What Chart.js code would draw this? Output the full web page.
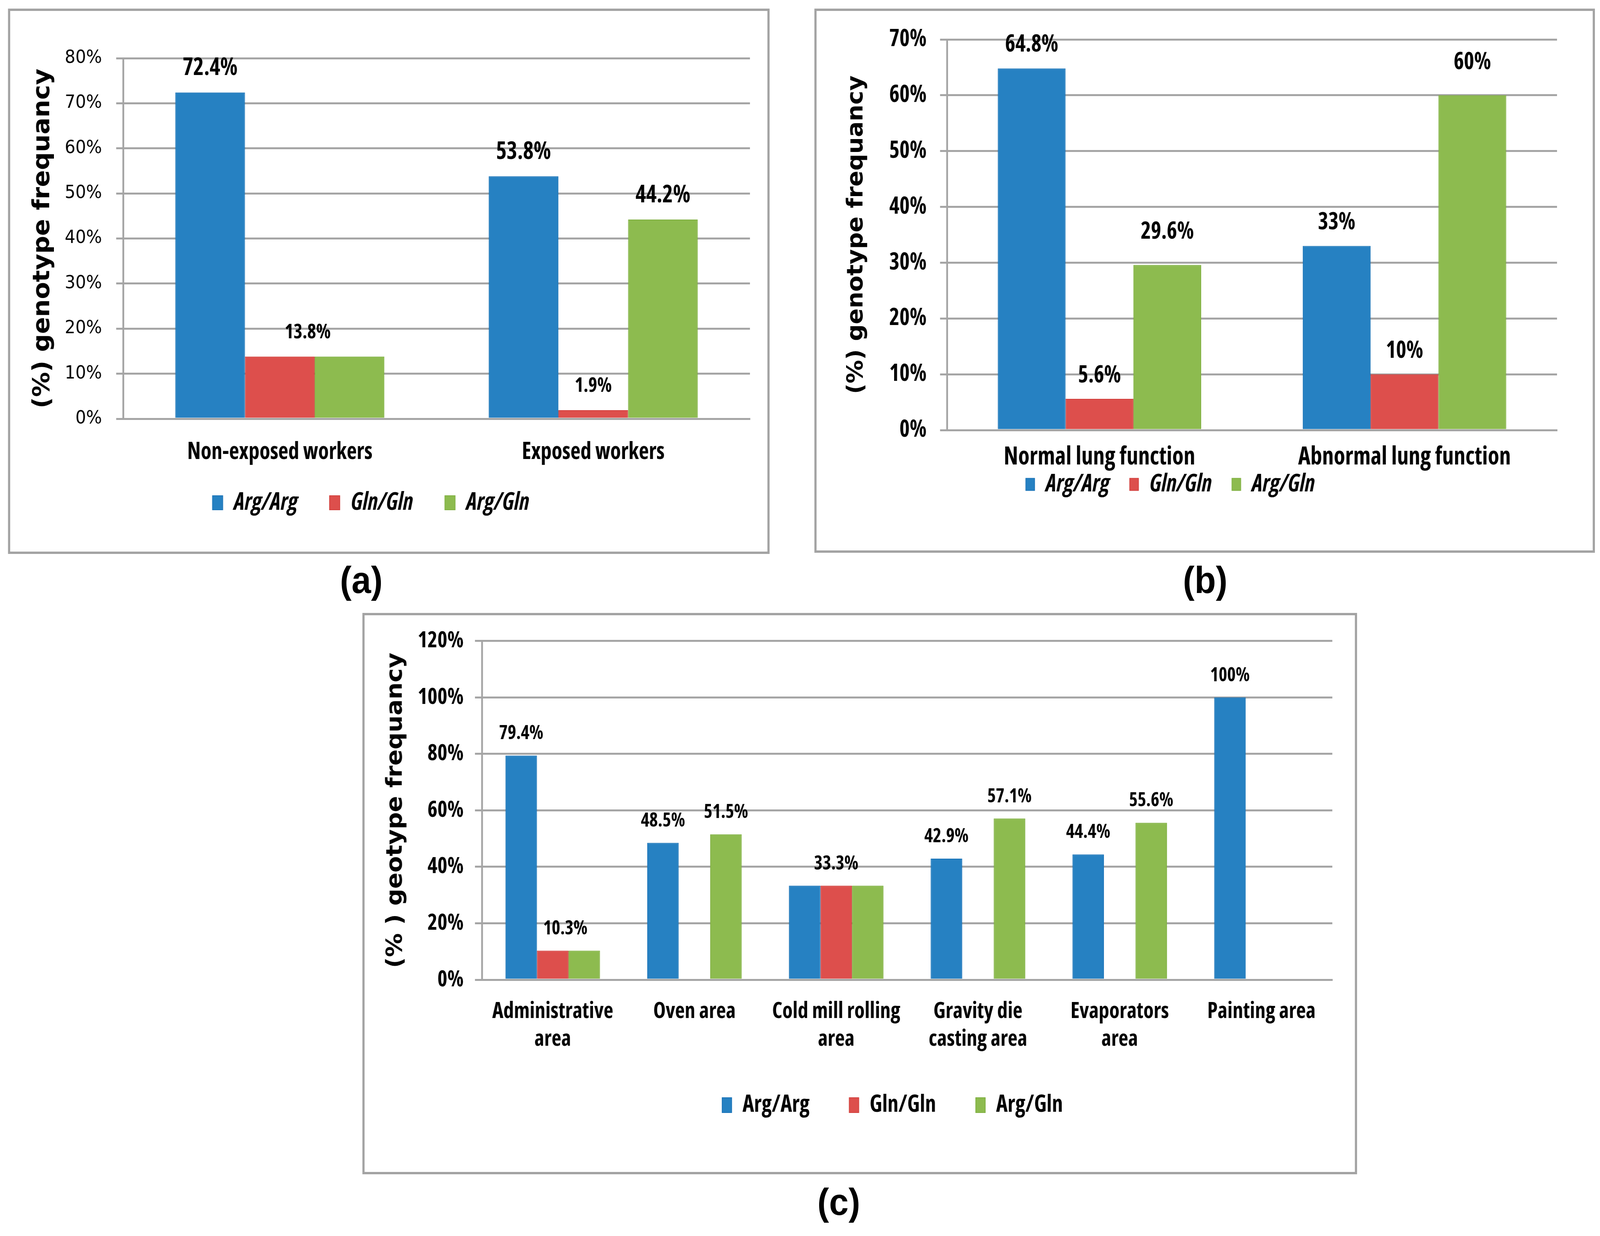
<!DOCTYPE html>
<html>
<head>
<meta charset="utf-8">
<script src="https://cdn.jsdelivr.net/npm/chart.js@4.4.1/dist/chart.umd.min.js"></script>
<style>
  html, body { margin: 0; padding: 0; background: #fff; overflow: hidden; }
  #frame { position: relative; width: 100vw; height: 3164px; overflow: hidden; }
  #page { position: absolute; left: 0; top: 0; width: 4393px; height: 3164px; transform-origin: 0 0; }
  .panel { position: absolute; border: 6px solid #a3a3a3; box-sizing: border-box; background: #fff; }
  .panel canvas { display: block; }
  .tag { position: absolute; width: 400px; height: 120px; line-height: 120px; text-align: center;
         font: bold 96px 'Liberation Sans', Arial, sans-serif; color: #000; }
</style>
</head>
<body>
<div id="frame">
<div id="page">
<div class="panel" style="left:22px;top:22px;width:2091px;height:1396px"><canvas id="chartA" width="2079" height="1384"></canvas></div>
<div class="panel" style="left:2236px;top:22px;width:2143px;height:1393px"><canvas id="chartB" width="2131" height="1381"></canvas></div>
<div class="panel" style="left:995px;top:1569px;width:2731px;height:1437px"><canvas id="chartC" width="2719" height="1425"></canvas></div>
<div class="tag" style="left:792px;top:1430px">(a)</div>
<div class="tag" style="left:3109px;top:1430px">(b)</div>
<div class="tag" style="left:2103px;top:3022px">(c)</div>
</div>
</div>

<script>
// the figure is laid out at 4393px wide; fit it to the window width
document.getElementById('page').style.transform =
  'scale(' + Math.min(1, window.innerWidth / 4393) + ', 1)';

// Series names shared by the three panels
const genotypes = ['Arg/Arg', 'Gln/Gln', 'Arg/Gln'];

// (a) exposure groups
const aCategories = ['Non-exposed workers', 'Exposed workers'];
const aArgArg = [72.4, 53.8];
const aGlnGln = [13.8, 1.9];
const aArgGln = [13.8, 44.2];
const aLabelArgArg = ['72.4%', '53.8%'];
const aLabelGlnGln = ['13.8%', '1.9%'];
const aLabelArgGln = ['', '44.2%'];

// (b) lung function
const bCategories = ['Normal lung function', 'Abnormal lung function'];
const bArgArg = [64.8, 33];
const bGlnGln = [5.6, 10];
const bArgGln = [29.6, 60];
const bLabelArgArg = ['64.8%', '33%'];
const bLabelGlnGln = ['5.6%', '10%'];
const bLabelArgGln = ['29.6%', '60%'];

// (c) work areas
const cCategories = [['Administrative', 'area'], 'Oven area', ['Cold mill rolling', 'area'],
                     ['Gravity die', 'casting area'], ['Evaporators', 'area'], 'Painting area'];
const cArgArg = [79.4, 48.5, 33.3, 42.9, 44.4, 100];
const cGlnGln = [10.3, 0, 33.3, 0, 0, 0];
const cArgGln = [10.3, 51.5, 33.3, 57.1, 55.6, 0];
const cLabelArgArg = ['79.4%', '48.5%', '', '42.9%', '44.4%', '100%'];
const cLabelGlnGln = ['10.3%', '', '33.3%', '', '', ''];
const cLabelArgGln = ['', '51.5%', '', '57.1%', '55.6%', ''];

const fills = ['#2681C2', '#DD4F4C', '#8DBB4F'];
const edges = ['#1B74B8', '#D2403D', '#7FB040'];
const gridColor = '#a5a5a5';
const NARROW = "'Open Sans', sans-serif";   // drawn condensed, close to Calibri
const WIDE = "'DejaVu Sans', Verdana, sans-serif";
const BOLD_C = 'bold condensed';

// value labels above the bars
const valueLabels = {
  id: 'valueLabels',
  afterDatasetsDraw(chart, args, opts) {
    const ctx = chart.ctx;
    chart.data.datasets.forEach((ds, di) => {
      const meta = chart.getDatasetMeta(di);
      meta.data.forEach((bar, i) => {
        const text = opts.texts[di][i];
        if (!text) return;
        const nudge = (opts.nudge && opts.nudge[di + '-' + i]) || 0;
        ctx.save();
        ctx.font = BOLD_C + ' ' + opts.sizes[di] + 'px ' + NARROW;
        ctx.fillStyle = '#000';
        ctx.textAlign = 'center';
        ctx.textBaseline = 'middle';
        ctx.fillText(text, bar.x + nudge * bar.width, bar.y - opts.offsets[di]);
        ctx.restore();
      });
    });
  }
};

// moves the legend row, as placed in the original figure
const legendShift = {
  id: 'legendShift',
  afterLayout(chart, args, opts) {
    const lg = chart.legend;
    if (!lg) return;
    lg.left += opts.dx || 0;
    lg.right += opts.dx || 0;
    lg.top += opts.dy || 0;
    lg.bottom += opts.dy || 0;
  }
};

function makeChart(canvasId, p) {
  return new Chart(document.getElementById(canvasId), {
    type: 'bar',
    data: {
      labels: p.categories,
      datasets: p.series.map((s, i) => ({
        label: genotypes[i],
        data: s,
        backgroundColor: fills[i],
        borderColor: edges[i],
        borderWidth: 2,
        categoryPercentage: 0.667,
        barPercentage: 1
      }))
    },
    options: {
      responsive: false,
      animation: false,
      devicePixelRatio: 1,
      layout: { padding: p.padding },
      scales: {
        x: {
          grid: { display: false, drawTicks: false },
          border: { display: true, color: gridColor, width: 5 },
          ticks: { color: '#000', padding: p.xPad, font: p.xFont, maxRotation: 0, autoSkip: false },
          afterFit: s => { s.height = p.xHeight; }
        },
        y: {
          min: 0,
          max: p.max,
          ticks: { stepSize: p.step, callback: v => v + '%', color: '#000', padding: p.yPad, font: p.yFont },
          grid: { color: gridColor, lineWidth: 5, tickLength: 19 },
          border: { color: gridColor, width: 5 },
          title: { display: true, text: p.title, color: '#000', padding: 0,
                   font: { family: WIDE, weight: 'bold', size: p.titleSize } },
          afterFit: s => { s.width = p.yWidth; }
        }
      },
      plugins: {
        legend: {
          position: 'bottom',
          labels: { color: '#000', font: p.legendFont, padding: p.legendPad,
                    boxWidth: p.box[0], boxHeight: p.box[1] }
        },
        tooltip: { enabled: false },
        valueLabels: p.valueLabels,
        legendShift: { dx: p.legendDx, dy: p.legendDy }
      }
    },
    plugins: [valueLabels, legendShift]
  });
}

makeChart('chartA', {
  categories: aCategories,
  series: [aArgArg, aGlnGln, aArgGln],
  max: 80, step: 10,
  title: '(%) genotype frequancy', titleSize: 64,
  padding: { left: 52, right: 48, top: 121, bottom: 56 },
  yWidth: 258, yPad: 39, yFont: { family: WIDE, size: 46 },
  xHeight: 125, xPad: 50, xFont: { family: NARROW, weight: BOLD_C, size: 60 },
  legendFont: { family: NARROW, weight: BOLD_C, style: 'italic', size: 62 },
  legendPad: 87, box: [28, 36], legendDx: -51, legendDy: -28,
  valueLabels: { texts: [aLabelArgArg, aLabelGlnGln, aLabelArgGln],
                 sizes: [62, 52, 62], offsets: [62, 62, 62], nudge: { '1-0': 0.4 } }
});

makeChart('chartB', {
  categories: bCategories,
  series: [bArgArg, bGlnGln, bArgGln],
  max: 70, step: 10,
  title: '(%) genotype frequancy', titleSize: 60,
  padding: { left: 74, right: 98, top: 72, bottom: 71 },
  yWidth: 284, yPad: 37, yFont: { family: NARROW, weight: BOLD_C, size: 60 },
  xHeight: 110, xPad: 31, xFont: { family: NARROW, weight: BOLD_C, size: 64 },
  legendFont: { family: NARROW, weight: BOLD_C, style: 'italic', size: 62 },
  legendPad: 55, box: [24, 31], legendDx: -82, legendDy: -57,
  valueLabels: { texts: [bLabelArgArg, bLabelGlnGln, bLabelArgGln],
                 sizes: [60, 60, 60], offsets: [60, 59, 84] }
});

makeChart('chartC', {
  categories: cCategories,
  series: [cArgArg, cGlnGln, cArgGln],
  max: 120, step: 20,
  title: '(% ) geotype frequancy', titleSize: 61,
  padding: { left: 50, right: 62, top: 63, bottom: 121 },
  yWidth: 272, yPad: 31, yFont: { family: NARROW, weight: BOLD_C, size: 58 },
  xHeight: 192, xPad: 46, xFont: { family: NARROW, weight: BOLD_C, size: 58, lineHeight: 1.224 },
  legendFont: { family: NARROW, weight: BOLD_C, size: 60 },
  legendPad: 109, box: [26, 38], legendDx: 96, legendDy: -10,
  valueLabels: { texts: [cLabelArgArg, cLabelGlnGln, cLabelArgGln],
                 sizes: [50, 50, 50], offsets: [56, 56, 56], nudge: { '1-0': 0.4 } }
});
</script>
</body>
</html>
